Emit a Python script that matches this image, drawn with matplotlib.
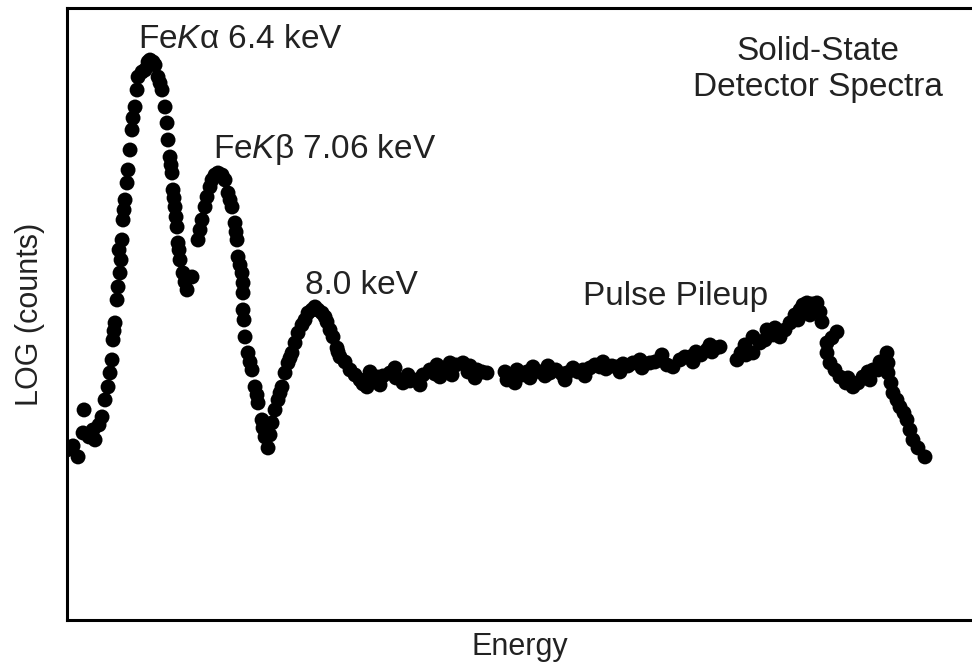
import matplotlib
matplotlib.use("Agg")
import matplotlib.pyplot as plt

# --- DATA: solid-state detector spectrum (channel vs. log counts, arbitrary units) ---
channel = [0, 6, 11, 16, 17, 22, 26, 28, 32, 35, 38, 41, 43, 45, 46, 47, 48, 50, 51, 52, 53, 54,
           55, 56, 57, 58, 60, 61, 63, 65, 66, 68, 70, 71, 75, 78, 81, 83, 86, 88, 91, 93, 95, 98,
           100, 101, 103, 104, 105, 106, 107, 108, 109, 110, 111, 112, 113, 116, 118, 120, 125, 131, 133, 135, 138, 140, 143, 145, 148,
           151, 155, 158, 161, 163, 165, 168, 169, 170, 171, 173, 175, 176, 176, 176, 177, 178, 181, 183, 185, 188, 190, 191, 195, 196,
           198, 201, 203, 205, 208, 211, 213, 215, 218, 221, 223, 225, 228, 231, 235, 238, 241, 245, 248, 251, 255, 258,
           260, 263, 266, 270, 271, 273, 278, 283, 288, 293, 296, 300, 303, 305, 310, 313, 316, 323, 328, 329, 336, 341, 343, 350, 353, 356,
           363, 368, 370, 373, 378, 383, 385, 389, 396, 401, 403, 408, 410, 415, 420, 438, 440, 445, 448, 450, 455, 460, 463, 466, 473, 478, 481, 483,
           489, 495, 498, 500, 506, 511, 516, 518, 523, 528, 533, 536, 539, 545, 550, 553, 556, 561, 566, 573, 575, 578, 583, 588, 593, 595,
           600, 606, 613, 618, 623, 626, 629, 634, 640, 643, 645, 649, 653, 670, 674, 678, 679, 686, 686, 693, 698, 700, 706, 708, 713,
           718, 723, 728, 731, 733, 736, 740, 743, 745, 750, 753, 755, 770, 765, 760, 760, 763, 768, 773, 779, 781, 786, 791,
           796, 801, 803, 806, 811, 813, 820, 821, 821, 824, 826, 830, 833, 837, 840, 843, 846, 851, 858]
log_counts = [1.70, 1.74, 1.63, 1.87, 2.10, 1.83, 1.90, 1.80, 1.95, 2.03, 2.20, 2.33, 2.47, 2.60, 2.80, 2.89, 2.97, 3.20, 3.33, 3.70, 3.47, 3.60,
              3.80, 4.00, 4.10, 4.20, 4.37, 4.50, 4.70, 4.90, 5.02, 5.13, 5.30, 5.43, 5.48, 5.50, 5.58, 5.60, 5.58, 5.55, 5.43, 5.37, 5.30, 5.13,
              4.97, 4.80, 4.63, 4.55, 4.47, 4.30, 4.22, 4.13, 4.03, 3.93, 3.77, 3.70, 3.60, 3.47, 3.38, 3.30, 3.43, 3.80, 3.90, 4.00, 4.13, 4.23, 4.33, 4.40, 4.45,
              4.47, 4.45, 4.40, 4.27, 4.20, 4.13, 3.97, 3.88, 3.80, 3.63, 3.55, 3.47, 3.27, 3.37, 3.10, 3.00, 2.83, 2.67, 2.58, 2.50, 2.33, 2.25, 2.17, 2.00, 1.92,
              1.83, 1.72, 1.85, 1.97, 2.10, 2.20, 2.27, 2.33, 2.47, 2.57, 2.62, 2.67, 2.77, 2.87, 2.95, 3.00, 3.07, 3.10, 3.13, 3.10, 3.07, 3.03,
              2.98, 2.90, 2.83, 2.72, 2.68, 2.63, 2.58, 2.50, 2.45, 2.40, 2.36, 2.33, 2.48, 2.40, 2.43, 2.35, 2.44, 2.47, 2.52, 2.42, 2.37, 2.45, 2.39, 2.40, 2.35, 2.45,
              2.50, 2.46, 2.55, 2.43, 2.50, 2.57, 2.45, 2.55, 2.57, 2.48, 2.54, 2.42, 2.50, 2.48, 2.47, 2.48, 2.40, 2.42, 2.37, 2.50, 2.45, 2.48, 2.42, 2.53, 2.48, 2.44, 2.54, 2.47,
              2.50, 2.46, 2.40, 2.47, 2.52, 2.48, 2.50, 2.44, 2.52, 2.55, 2.53, 2.58, 2.51, 2.54, 2.53, 2.48, 2.56, 2.54, 2.57, 2.60, 2.52, 2.56, 2.57, 2.58, 2.60, 2.65,
              2.55, 2.53, 2.60, 2.63, 2.63, 2.58, 2.68, 2.65, 2.70, 2.75, 2.68, 2.72, 2.73, 2.60, 2.67, 2.75, 2.65, 2.67, 2.83, 2.77, 2.80, 2.90, 2.85, 2.92, 2.83,
              2.90, 2.97, 3.05, 3.00, 3.10, 3.15, 3.17, 3.05, 3.16, 3.17, 3.08, 2.98, 2.88, 2.82, 2.77, 2.67, 2.57, 2.50, 2.43, 2.37, 2.42, 2.33, 2.37,
              2.43, 2.48, 2.40, 2.50, 2.50, 2.58, 2.67, 2.57, 2.47, 2.37, 2.27, 2.20, 2.13, 2.07, 2.00, 1.90, 1.80, 1.72, 1.63]

# --- Fonts ---
plt.rcParams['font.family'] = ['Liberation Sans', 'DejaVu Sans']
plt.rcParams['mathtext.fontset'] = 'custom'
plt.rcParams['mathtext.rm'] = 'Liberation Sans'
plt.rcParams['mathtext.it'] = 'Liberation Sans:italic'

fig = plt.figure(figsize=(9.72, 6.68), dpi=100)
ax = fig.add_axes([0.069, 0.072, 0.931, 0.916])

ax.scatter(channel, log_counts, s=115, color='black', edgecolors='none', zorder=3)

ax.set_xlim(0, 905)
ax.set_ylim(0, 6.12)
ax.set_xticks([])
ax.set_yticks([])
for side in ['left', 'top', 'bottom']:
    ax.spines[side].set_linewidth(2.2)
ax.spines['right'].set_visible(False)

ax.set_xlabel("Energy", fontsize=22, labelpad=9, color='#222222')
ax.set_ylabel("LOG (counts)", fontsize=22, labelpad=16, color='#222222')

# --- Annotations ---
txt = dict(fontsize=24, color='#222222', va='center')
ax.text(0.078, 0.949, r"Fe$\it{K}$α 6.4 keV", transform=ax.transAxes, **txt)
ax.text(0.161, 0.768, r"Fe$\it{K}$β 7.06 keV", transform=ax.transAxes, **txt)
ax.text(0.263, 0.547, "8.0 keV", transform=ax.transAxes, **txt)
ax.text(0.570, 0.528, "Pulse Pileup", transform=ax.transAxes, **txt)
ax.text(0.830, 0.899, "Solid-State\nDetector Spectra", transform=ax.transAxes,
        ha='center', linespacing=1.2, **txt)

fig.savefig("out.png", dpi=100)
